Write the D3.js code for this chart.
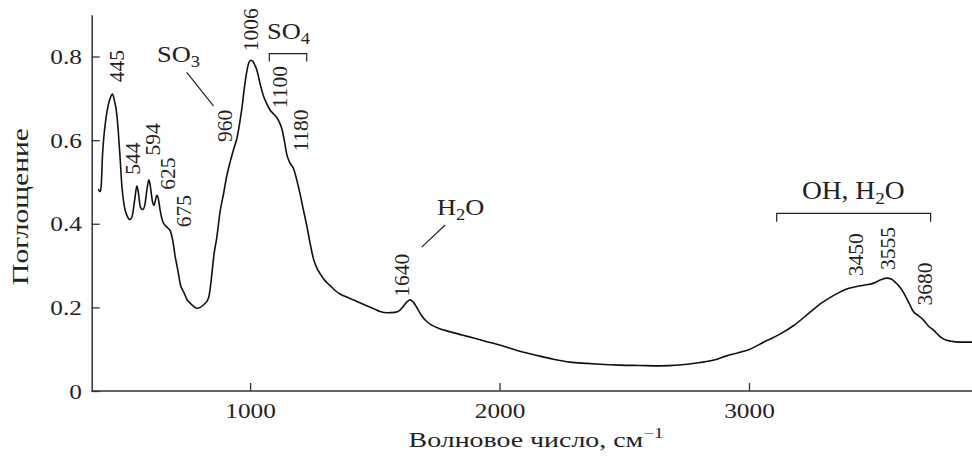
<!DOCTYPE html>
<html><head><meta charset="utf-8">
<script src="https://cdn.jsdelivr.net/npm/d3@7"></script>
<style>
body{margin:0;background:#fff}
text{font-family:"Liberation Serif","Times New Roman",serif;fill:#222}
</style>
</head><body>
<svg id="c" width="972" height="457"></svg>
<script>
// ---- data ----
const wavenumber = [392,396,400,404,408,412,422,431,440,448,456,466,479,486,495,506,519,528,538,546,552,560,570,578,586,594,600,608,615,620,626,632,640,650,660,670,680,690,700,710,720,735,746,760,775,786,800,815,833,840,846,856,866,880,893,905,920,935,947,958,967,977,987,995,1003,1012,1020,1027,1040,1053,1066,1080,1095,1107,1118,1127,1137,1147,1160,1174,1187,1200,1213,1227,1240,1254,1267,1281,1300,1321,1340,1361,1390,1414,1440,1467,1495,1521,1550,1580,1600,1615,1630,1642,1655,1670,1690,1710,1730,1760,1800,1850,1900,1950,2000,2082,2150,2216,2283,2350,2403,2483,2560,2643,2720,2804,2860,2910,2960,3004,3060,3124,3178,3244,3290,3338,3392,3440,3472,3500,3528,3552,3570,3590,3605,3619,3640,3659,3680,3699,3720,3741,3760,3781,3810,3846,3900];
const absorbance = [0.483,0.478,0.477,0.50,0.56,0.596,0.651,0.683,0.702,0.710,0.695,0.66,0.556,0.49,0.444,0.42,0.41,0.42,0.46,0.49,0.475,0.44,0.434,0.445,0.48,0.505,0.49,0.455,0.444,0.455,0.468,0.46,0.43,0.405,0.396,0.39,0.383,0.36,0.32,0.29,0.256,0.235,0.22,0.21,0.202,0.198,0.20,0.207,0.222,0.245,0.276,0.33,0.365,0.43,0.47,0.51,0.548,0.58,0.604,0.64,0.676,0.725,0.765,0.785,0.791,0.788,0.778,0.768,0.735,0.707,0.688,0.672,0.662,0.654,0.642,0.628,0.60,0.566,0.545,0.532,0.505,0.472,0.435,0.396,0.355,0.316,0.295,0.28,0.264,0.252,0.241,0.232,0.224,0.218,0.211,0.204,0.197,0.19,0.187,0.188,0.193,0.203,0.214,0.218,0.212,0.198,0.178,0.165,0.157,0.149,0.142,0.134,0.126,0.118,0.11,0.095,0.085,0.076,0.069,0.066,0.064,0.062,0.061,0.060,0.062,0.068,0.074,0.084,0.092,0.10,0.117,0.136,0.156,0.188,0.21,0.228,0.244,0.251,0.254,0.258,0.266,0.27,0.268,0.258,0.248,0.236,0.212,0.19,0.18,0.17,0.155,0.145,0.133,0.124,0.119,0.117,0.117];
const xTicks = [1000, 2000, 3000];
const yTicks = [0, 0.2, 0.4, 0.6, 0.8];
const yTickLabels = ["0", "0.2", "0.4", "0.6", "0.8"];
// peak labels: text and anchor in data units (wavenumber, absorbance)
const peakText = ["445","544","594","625","675","960","1006","1100","1180","1640","3450","3555","3680"];
const peakAnchorW = [466,529,609,669,737,898,1002,1120,1206,1609,3427,3559,3707];
const peakAnchorA = [0.777,0.556,0.602,0.520,0.430,0.634,0.864,0.727,0.623,0.277,0.326,0.341,0.256];
const xTitle = "Волновое число, см";
const yTitle = "Поглощение";

// ---- scales ----
const svg = d3.select("#c");
const x = d3.scaleLinear().domain([365, 3900]).range([91.7, 973.5]);
const y = d3.scaleLinear().domain([0, 0.9]).range([391, 14.7]);
const axisColor = "#333";

// ---- axes ----
const gx = svg.append("g").attr("transform", `translate(0,${y(0)})`)
  .call(d3.axisBottom(x).tickValues(xTicks).tickFormat(d3.format("d")).tickSize(-8).tickSizeOuter(0).tickPadding(11));
gx.select(".domain").attr("d", `M${x.range()[0]},0H972`);
const gy = svg.append("g").attr("transform", `translate(${x.range()[0]},0)`)
  .call(d3.axisLeft(y).tickValues(yTicks).tickFormat((d,i)=>yTickLabels[i]).tickSize(-8).tickSizeOuter(0).tickPadding(8.5));
for (const g of [gx, gy]) {
  g.select(".domain").attr("stroke", axisColor).attr("stroke-width", 1.5);
  g.selectAll(".tick line").attr("stroke", axisColor).attr("stroke-width", 1.3);
  g.selectAll(".tick text").attr("font-family", '"Liberation Serif",serif').attr("font-size", 22)
    .attr("fill", "#222").attr("transform", "scale(1.15,1)");
}
gy.selectAll(".tick line").attr("x1", 0);
gx.selectAll(".tick").filter(d => d === 0).remove();

// ---- spectrum ----
const pts = wavenumber.map((w,i)=>[w, absorbance[i]]);
svg.append("path").datum(pts)
  .attr("fill", "none").attr("stroke", "#111").attr("stroke-width", 1.6).attr("stroke-linejoin","round")
  .attr("d", d3.line().x(d=>x(d[0])).y(d=>y(d[1])).curve(d3.curveMonotoneX));

// ---- peak labels (rotated) ----
peakText.forEach((t,i)=>{
  svg.append("text").text(t)
    .attr("font-size", 21.5).attr("text-anchor","middle").attr("dominant-baseline","central")
    .attr("transform", `translate(${x(peakAnchorW[i])},${y(peakAnchorA[i])}) rotate(-90)`);
});

// ---- chemical group labels ----
function chem(parts, w, a, size) {
  const t = svg.append("text").attr("font-size", size)
    .attr("transform", `translate(${x(w)},${y(a)}) scale(1.1,1)`);
  parts.forEach(p=>{
    const s = t.append("tspan").text(p[0]);
    if (p[1] === "sub") s.attr("font-size", size*0.7).attr("dy", size*0.22);
    if (p[1] === "up") s.attr("dy", -size*0.22);
  });
  return t;
}
chem([["SO"],["3","sub"]], 627, 0.788, 24);
chem([["SO"],["4","sub"]], 1068, 0.843, 24);
chem([["H"],["2","sub"],["O","up"]], 1749, 0.421, 24);
chem([["OH, H"],["2","sub"],["O","up"]], 3212, 0.460, 25);

// leader lines & brackets
const lineStyle = s => s.attr("fill","none").attr("stroke","#222").attr("stroke-width",1.2);
svg.append("line").attr("x1", x(746)).attr("y1", y(0.762)).attr("x2", x(853)).attr("y2", y(0.682)).call(lineStyle);
svg.append("line").attr("x1", x(1782)).attr("y1", y(0.397)).attr("x2", x(1688)).attr("y2", y(0.344)).call(lineStyle);
svg.append("path").attr("d", `M${x(1077)},${y(0.788)}V${y(0.807)}H${x(1227)}V${y(0.788)}`).call(lineStyle);
svg.append("path").attr("d", `M${x(3111)},${y(0.405)}V${y(0.425)}H${x(3728)}V${y(0.405)}`).call(lineStyle);

// ---- axis titles ----
function fit(sel, target) {
  const w = sel.node().getBBox().width;
  return target / w;
}
const xt = svg.append("text").attr("font-size", 22).attr("text-anchor","middle");
xt.append("tspan").text(xTitle);
xt.append("tspan").text("−1").attr("font-size", 15).attr("dy", -9);
const sx = fit(xt, 255);
xt.attr("transform", `translate(536,447) scale(${sx},1)`);

const yt = svg.append("text").attr("font-size", 23).attr("text-anchor","middle").attr("dominant-baseline","central").text(yTitle);
const sy = fit(yt, 157);
yt.attr("transform", `translate(20,206.5) rotate(-90) scale(${sy},1)`);
</script>
</body></html>
